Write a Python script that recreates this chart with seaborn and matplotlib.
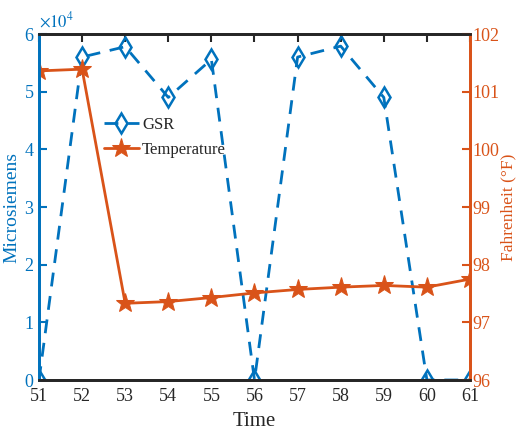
import matplotlib
matplotlib.use("Agg")
import matplotlib.pyplot as plt
import seaborn as sns
import pandas as pd

time = [51, 52, 53, 54, 55, 56, 57, 58, 59, 60, 61]
gsr = [0, 56000, 57800, 49000, 55600, 0, 56000, 57900, 49000, 0, 0]
temperature = [101.36, 101.39, 97.33, 97.36, 97.43, 97.51, 97.57, 97.61, 97.64, 97.61, 97.75]

blue = "#0072BD"
orange = "#D95319"

sns.set_style("white")
plt.rcParams["font.family"] = ["Liberation Serif", "DejaVu Serif"]
plt.rcParams["mathtext.fontset"] = "stix"

df = pd.DataFrame({"Time": time, "GSR": gsr, "Temperature": temperature})

fig = plt.figure(figsize=(5.17, 4.41), dpi=100)
ax = fig.add_axes([0.0754, 0.1383, 0.8337, 0.7846])
ax2 = ax.twinx()

sns.lineplot(data=df, x="Time", y="GSR", ax=ax, color=blue, linestyle=(0, (5, 3.5)),
             linewidth=2, marker="d", markersize=10, markerfacecolor="none",
             markeredgecolor=blue, markeredgewidth=1.8, label="GSR", legend=False)
sns.lineplot(data=df, x="Time", y="Temperature", ax=ax2, color=orange,
             linewidth=2, marker="*", markersize=14, markeredgecolor=orange,
             label="Temperature", legend=False)

ax.set_xlim(51, 61)
ax.set_ylim(0, 60000)
ax2.set_ylim(96, 102)
ax.set_xticks(time)
ax.set_yticks([0, 10000, 20000, 30000, 40000, 50000, 60000])
ax.set_yticklabels(["0", "1", "2", "3", "4", "5", "6"])
ax2.set_yticks([96, 97, 98, 99, 100, 101, 102])

ax.tick_params(axis="x", direction="in", length=6, width=1.5, colors="#262626",
               labelsize=13, top=True, pad=6)
ax.tick_params(axis="y", direction="in", length=6, width=1.5, colors=blue,
               labelsize=13, pad=4)
ax2.tick_params(axis="y", direction="in", length=6, width=1.5, colors=orange,
                labelsize=13, pad=2)

for a in (ax, ax2):
    for s in a.spines.values():
        s.set_linewidth(2)
        s.set_visible(True)
    a.spines["top"].set_color("#262626")
    a.spines["bottom"].set_color("#262626")
    a.spines["left"].set_color(blue)
    a.spines["right"].set_color(orange)
    a.grid(False)

ax.set_xlabel("Time", fontsize=15, color="#262626", labelpad=5)
ax.set_ylabel("Microsiemens", fontsize=14, color=blue, labelpad=3)
ax2.set_ylabel("Fahrenheit (°F)", fontsize=12.5, color=orange, labelpad=0)

ax.text(0.0, 1.01, r"$\times10^4$", transform=ax.transAxes, color=blue,
        fontsize=12, ha="left", va="bottom")

h1, l1 = ax.get_legend_handles_labels()
h2, l2 = ax2.get_legend_handles_labels()
ax2.legend(h1 + h2, l1 + l2, loc="upper left", bbox_to_anchor=(0.135, 0.78),
           frameon=False, fontsize=12, handlelength=2.1, handletextpad=0.2,
           borderaxespad=0, labelspacing=0.55)

fig.savefig("out.png", dpi=100)
